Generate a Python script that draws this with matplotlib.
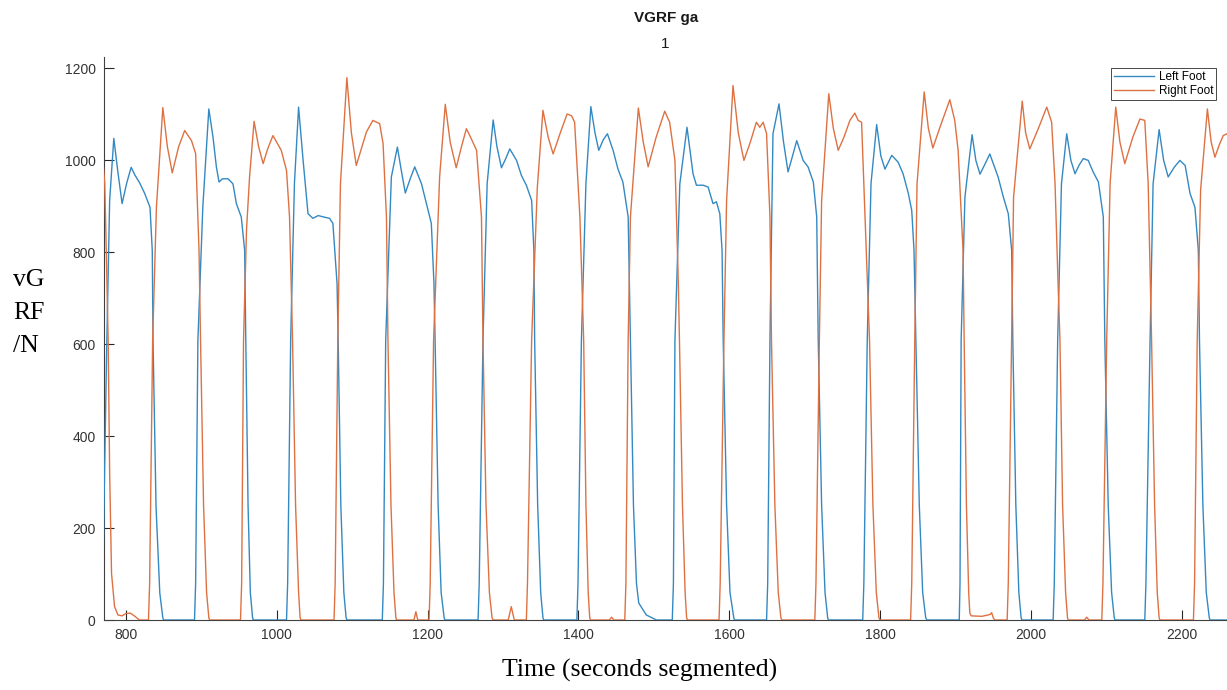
import numpy as np
import matplotlib
matplotlib.use('Agg')
import matplotlib.pyplot as plt

# vertical ground reaction force (time, force in N)
left_t = [770, 774.5, 778.5, 784, 789, 795, 801, 807, 812, 818, 825, 832, 835, 836, 840, 845, 849, 850,
          891, 892.5, 895.5, 902, 910, 915.5, 920, 923.5, 928, 935.5, 942, 946.5, 953, 957.5, 959, 962, 965, 968, 969,
          1013, 1014.5, 1018.5, 1023.5, 1029, 1035, 1041.5, 1048, 1055, 1062, 1070, 1074.5, 1080, 1081.5, 1085, 1089, 1092, 1093,
          1140, 1141.5, 1144.5, 1152, 1160, 1165, 1170.5, 1177, 1183, 1192, 1198.5, 1205, 1208.5, 1210, 1214, 1218, 1222, 1223,
          1267, 1268.5, 1273.5, 1279, 1287, 1292, 1298, 1304, 1309, 1318, 1324.5, 1331, 1338, 1341, 1342, 1346, 1350, 1353, 1354,
          1398, 1399.5, 1404, 1410, 1416.5, 1422, 1427, 1433, 1438.5, 1446, 1452.5, 1459, 1466, 1469, 1473, 1477, 1480, 1490, 1503.5,
          1524.5, 1526, 1528, 1534.5, 1544, 1552, 1556.5, 1565.5, 1572, 1578.5, 1583, 1587.5, 1590.5, 1592, 1596.5, 1601, 1606, 1607,
          1649.5, 1651, 1654, 1658, 1666, 1672, 1678, 1684, 1689.5, 1698, 1704.5, 1711.5, 1716, 1718, 1722.5, 1727, 1730.5, 1731.5,
          1777, 1778.5, 1783, 1788, 1795.5, 1801, 1806.5, 1815.5, 1824, 1830.5, 1837.5, 1842, 1845, 1847.5, 1852, 1856.5, 1860.5, 1862,
          1905, 1906, 1907.5, 1912.5, 1922, 1927, 1932.5, 1940, 1945.5, 1956.5, 1963.5, 1970, 1974.5, 1976, 1980, 1984, 1987, 1988,
          2029.5, 2031, 2035.5, 2040.5, 2047.5, 2053, 2058.5, 2064, 2069.5, 2076, 2082.5, 2089.5, 2096, 2098, 2102.5, 2107, 2110.5, 2111.5,
          2151, 2152.5, 2158, 2162, 2170, 2176, 2182, 2190, 2197.5, 2204.5, 2211, 2217.5, 2222, 2223.5, 2228, 2232.5, 2236.5, 2237.5, 2265]
left_f = [150, 587, 913, 1048, 980, 906, 950, 985, 968, 952, 928, 898, 804, 609, 246, 58, 5, 0,
          0, 80, 609, 898, 1112, 1051, 986, 953, 960, 960, 949, 906, 877, 804, 609, 250, 60, 5, 0,
          0, 80, 609, 950, 1116, 1000, 884, 874, 880, 877, 874, 863, 732, 609, 250, 60, 5, 0,
          0, 80, 609, 964, 1029, 980, 929, 960, 986, 949, 906, 863, 732, 609, 250, 60, 5, 0,
          0, 80, 609, 949, 1088, 1030, 984, 1005, 1025, 1000, 967, 946, 913, 804, 609, 250, 60, 5, 0,
          0, 80, 609, 950, 1117, 1060, 1022, 1045, 1058, 1022, 981, 953, 877, 609, 250, 80, 37, 11, 0,
          0, 80, 609, 949, 1072, 971, 946, 946, 942, 906, 910, 884, 804, 609, 250, 60, 5, 0,
          0, 80, 609, 1058, 1123, 1040, 975, 1010, 1043, 1000, 986, 953, 877, 609, 250, 60, 5, 0,
          0, 80, 609, 950, 1078, 1010, 981, 1011, 996, 971, 928, 891, 804, 609, 250, 60, 5, 0,
          0, 80, 609, 920, 1056, 1000, 970, 995, 1014, 964, 920, 884, 804, 609, 250, 60, 5, 0,
          0, 80, 609, 949, 1058, 1000, 971, 990, 1004, 1000, 975, 953, 877, 609, 250, 60, 5, 0,
          0, 80, 609, 949, 1067, 1000, 964, 985, 1000, 989, 928, 898, 804, 609, 250, 60, 5, 0, 0]

right_t = [770, 772, 774, 776.5, 778.5, 781, 785, 789.5, 795, 800, 806, 812, 818,
           830, 831.5, 835.5, 840.5, 849, 855, 861.5, 870, 878, 887, 892.5, 897, 899, 903, 907, 910, 911,
           952, 953.5, 956, 960, 964, 970, 976, 982, 988, 995, 1006, 1013, 1017, 1021, 1025, 1029, 1031, 1032,
           1076, 1077.5, 1081, 1084.5, 1093, 1099, 1105.5, 1119, 1127.5, 1136.5, 1141, 1145.5, 1147.5, 1151.5, 1155.5, 1158, 1159,
           1182, 1184.5, 1187,
           1202, 1203.5, 1208, 1216, 1223.5, 1230, 1238, 1245, 1251.5, 1258, 1265, 1271.5, 1273.5, 1277.5, 1282, 1285.5, 1287,
           1307, 1311, 1315,
           1331, 1332.5, 1338, 1345.5, 1353, 1360, 1366.5, 1376, 1385, 1391, 1395, 1402, 1407, 1410, 1413, 1415, 1416,
           1441, 1444, 1447,
           1461.5, 1463, 1466, 1469, 1479.5, 1486, 1492.5, 1503, 1514.5, 1521, 1528, 1532.5, 1534, 1538, 1541.5, 1543.5, 1544.5,
           1586.5, 1588, 1593, 1596.5, 1605, 1612, 1619.5, 1628, 1636, 1640.5, 1645, 1649.5, 1654, 1656, 1660.5, 1665, 1668.5, 1669.5,
           1713.5, 1715, 1719.5, 1722.5, 1732, 1738, 1744.5, 1752, 1760, 1766.5, 1771, 1775.5, 1780, 1786, 1790.5, 1795, 1798.5, 1800,
           1840.5, 1842, 1846, 1849, 1858.5, 1864, 1870, 1880, 1892.5, 1899, 1903.5, 1910, 1911.5, 1914.5, 1917.5, 1919, 1921, 1935, 1946, 1948, 1950, 1952,
           1968.5, 1970, 1974.5, 1977, 1988.5, 1993, 1998.5, 2010, 2021, 2027.5, 2032, 2036, 2038.5, 2042, 2046, 2048.5, 2049.5,
           2071, 2074, 2077,
           2094, 2095.5, 2100.5, 2105, 2112.5, 2118, 2124.5, 2135, 2144.5, 2151, 2155.5, 2160, 2164, 2167.5, 2170, 2171,
           2215.5, 2217, 2220.5, 2225, 2234, 2239, 2244, 2250, 2255, 2260, 2265]
right_f = [990, 950, 804, 609, 319, 101, 29, 11, 9, 14, 15, 8, 0,
           0, 80, 609, 898, 1115, 1030, 973, 1030, 1065, 1043, 1015, 804, 609, 250, 60, 5, 0,
           0, 80, 609, 850, 964, 1085, 1030, 993, 1025, 1054, 1022, 978, 877, 609, 250, 60, 5, 0,
           0, 80, 609, 949, 1180, 1060, 989, 1062, 1087, 1080, 1037, 877, 609, 250, 60, 5, 0,
           0, 18, 0,
           0, 80, 609, 964, 1122, 1040, 984, 1030, 1069, 1047, 1022, 877, 609, 250, 60, 5, 0,
           0, 29, 0,
           0, 80, 609, 940, 1109, 1050, 1014, 1060, 1101, 1097, 1083, 877, 609, 250, 60, 5, 0,
           0, 6, 0,
           0, 80, 609, 877, 1114, 1040, 986, 1050, 1107, 1083, 1000, 732, 609, 250, 60, 5, 0,
           0, 80, 609, 913, 1163, 1060, 1000, 1040, 1083, 1072, 1083, 1058, 877, 609, 250, 60, 5, 0,
           0, 80, 609, 913, 1145, 1070, 1022, 1050, 1087, 1103, 1087, 1083, 877, 609, 250, 60, 5, 0,
           0, 80, 609, 949, 1149, 1070, 1027, 1075, 1132, 1087, 1022, 804, 609, 250, 60, 15, 9, 8, 12, 16, 5, 0,
           0, 80, 609, 920, 1129, 1060, 1025, 1070, 1116, 1083, 949, 732, 609, 250, 60, 5, 0,
           0, 6, 0,
           0, 80, 609, 950, 1116, 1040, 993, 1050, 1090, 1087, 949, 609, 250, 60, 5, 0,
           0, 80, 609, 935, 1112, 1040, 1007, 1035, 1054, 1058, 1060]

xticks = [800, 1000, 1200, 1400, 1600, 1800, 2000, 2200]
yticks = [0, 200, 400, 600, 800, 1000, 1200]

W, H = 1227, 690
fig = plt.figure(figsize=(W / 100, H / 100), dpi=100)
ax = fig.add_axes([104 / W, 70 / H, 1123 / W, 563 / H])

ax.plot(left_t, left_f, color='#3489c2', lw=1.0, label='Left Foot', zorder=3)
ax.plot(right_t, right_f, color='#de7142', lw=1.0, label='Right Foot', zorder=3)

ax.set_xlim(771, 2260)
ax.set_ylim(0, 1225)
ax.set_xticks(xticks)
ax.set_yticks(yticks)
for s in ['top', 'right']:
    ax.spines[s].set_visible(False)
for s in ['left', 'bottom']:
    ax.spines[s].set_color('#404040')
    ax.spines[s].set_linewidth(0.8)
ax.tick_params(direction='in', length=7, width=0.8, color='#262626',
               labelsize=10, labelcolor='#333333', pad=6)
for lab in ax.get_xticklabels() + ax.get_yticklabels():
    lab.set_family('Liberation Sans')

leg = ax.legend(loc='upper right', bbox_to_anchor=(1216 / W, 1 - 68 / H),
                bbox_transform=fig.transFigure, borderaxespad=0, fancybox=False,
                prop={'family': 'Liberation Sans', 'size': 8.5}, handlelength=3.4,
                handletextpad=0.4, borderpad=0.25, labelspacing=0.2)
leg.get_frame().set_edgecolor('#1a1a1a')
leg.get_frame().set_linewidth(0.7)

fig.text(666 / W, 1 - 18 / H, 'VGRF ga', ha='center', va='center',
         family='Liberation Sans', weight='bold', size=11, color='#1a1a1a')
fig.text(665 / W, 1 - 44 / H, '1', ha='center', va='center',
         family='Liberation Sans', size=11, color='#1a1a1a')
fig.text(13 / W, 1 - 313 / H, 'vG\nRF\n/N', ha='left', va='center', multialignment='left',
         family='Liberation Serif', size=18.5, linespacing=1.65)
fig.text(640 / W, 1 - 670 / H, 'Time (seconds segmented)', ha='center', va='center',
         family='Liberation Serif', size=18.5)

fig.savefig('out.png', dpi=100)
